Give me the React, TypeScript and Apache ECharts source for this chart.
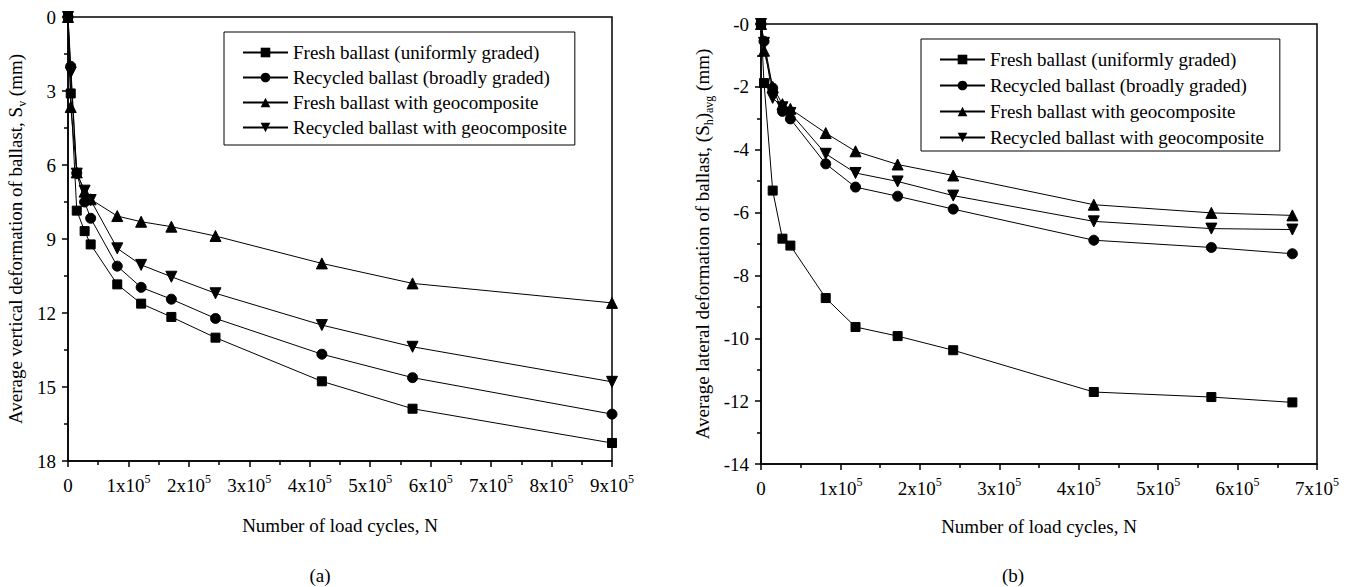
import React, { useEffect, useRef } from "react";
import * as echarts from "echarts";

const SERIES_NAMES = [
  "Fresh ballast (uniformly graded)",
  "Recycled ballast (broadly graded)",
  "Fresh ballast with geocomposite",
  "Recycled ballast with geocomposite",
];

// (a) vertical deformation
const N_A = [0, 4500, 14500, 27500, 37500, 81500, 121000, 171000, 244000, 420000, 570000, 900000];
const FRESH_A = [0, 3.1, 7.85, 8.68, 9.22, 10.84, 11.62, 12.16, 13.0, 14.77, 15.88, 17.27];
const RECYCLED_A = [0, 2.0, 6.33, 7.5, 8.16, 10.1, 10.96, 11.44, 12.22, 13.67, 14.62, 16.1];
const FRESH_GEO_A = [0, 3.65, 6.3, 7.08, 7.39, 8.07, 8.3, 8.5, 8.88, 9.99, 10.8, 11.59];
const RECYCLED_GEO_A = [0, 2.25, 6.35, 7.04, 7.42, 9.38, 10.05, 10.53, 11.2, 12.49, 13.37, 14.79];

// (b) lateral deformation
const N_B = [0, 3800, 14700, 27000, 37000, 81500, 119000, 172000, 242000, 419000, 567000, 669000];
const FRESH_B = [0, -1.88, -5.3, -6.83, -7.05, -8.72, -9.64, -9.93, -10.38, -11.71, -11.87, -12.04];
const RECYCLED_B = [0, -0.55, -2.04, -2.78, -3.02, -4.45, -5.19, -5.48, -5.89, -6.88, -7.11, -7.31];
const FRESH_GEO_B = [0, -0.85, -2.0, -2.55, -2.7, -3.47, -4.05, -4.47, -4.82, -5.75, -6.01, -6.09];
const RECYCLED_GEO_B = [0, -0.6, -2.35, -2.65, -2.83, -4.13, -4.74, -5.01, -5.46, -6.28, -6.51, -6.54];

const FONT = "Liberation Serif";
const FS = 19;
const BLACK = "#000";

const SYMBOLS = [
  { symbol: "rect", size: 9, rotate: 0 },
  { symbol: "circle", size: 10, rotate: 0 },
  { symbol: "triangle", size: 11, rotate: 0 },
  { symbol: "triangle", size: 11, rotate: 180 },
];

function pairs(xs: number[], ys: number[]) {
  return xs.map((x, i) => [x, ys[i]]);
}

const xLabelFormatter = (v: number) =>
  v === 0 ? "{b|0}" : `{b|${Math.round(v / 1e5)}x10}{s|5}`;

const xLabelRich = {
  b: { fontSize: FS, fontFamily: FONT, color: BLACK, lineHeight: 25 },
  s: { fontSize: 12, fontFamily: FONT, color: BLACK, lineHeight: 12, verticalAlign: "top" },
};

const nameRich = {
  n: { fontSize: FS, fontFamily: FONT, color: BLACK, lineHeight: 25 },
  sub: { fontSize: 12, fontFamily: FONT, color: BLACK, lineHeight: 12, verticalAlign: "bottom" },
};

function axisCommon() {
  return {
    axisLine: { show: true, onZero: false, lineStyle: { color: BLACK, width: 1.5 } },
    axisTick: { show: true, inside: false, length: 6, lineStyle: { color: BLACK, width: 1.5 } },
    minorTick: { show: true, splitNumber: 2, length: 4, lineStyle: { color: BLACK, width: 1.5 } },
    splitLine: { show: false },
    minorSplitLine: { show: false },
  };
}

function makeSeries(xs: number[], ysList: number[][], axisIndex: number) {
  return ysList.map((ys, i) => ({
    name: SERIES_NAMES[i],
    type: "line",
    xAxisIndex: axisIndex,
    yAxisIndex: axisIndex,
    data: pairs(xs, ys),
    symbol: SYMBOLS[i].symbol,
    symbolSize: SYMBOLS[i].size,
    symbolRotate: SYMBOLS[i].rotate,
    showAllSymbol: true,
    clip: false,
    lineStyle: { color: BLACK, width: 1 },
    itemStyle: { color: BLACK, borderColor: BLACK },
    emphasis: { disabled: true },
  }));
}

function legendCfg(left: number, top: number, itemGap: number, padding: number[]) {
  return {
    orient: "vertical",
    left,
    top,
    data: SERIES_NAMES,
    itemWidth: 45,
    itemHeight: 12,
    itemGap,
    padding,
    borderColor: BLACK,
    borderWidth: 1,
    borderRadius: 0,
    backgroundColor: "#fff",
    selectedMode: false,
    textStyle: { fontSize: FS, fontFamily: FONT, color: BLACK, lineHeight: 19 },
  };
}

export default function App() {
  const ref = useRef<HTMLDivElement>(null);

  useEffect(() => {
    if (!ref.current) return;
    const chart = echarts.init(ref.current, null, { renderer: "svg" });

    const option: any = {
      animation: false,
      backgroundColor: "#fff",
      textStyle: { fontFamily: FONT, color: BLACK },
      grid: [
        { left: 68, top: 17, width: 544, height: 444, show: true, borderColor: BLACK, borderWidth: 1.5, backgroundColor: "transparent" },
        { left: 761, top: 24, width: 556, height: 440, show: true, borderColor: BLACK, borderWidth: 1.5, backgroundColor: "transparent" },
      ],
      xAxis: [
        {
          gridIndex: 0,
          type: "value",
          min: 0,
          max: 900000,
          interval: 100000,
          name: "Number of load cycles, N",
          nameLocation: "middle",
          nameGap: 55,
          nameTextStyle: { fontSize: FS, fontFamily: FONT, color: BLACK },
          axisLabel: { formatter: xLabelFormatter, rich: xLabelRich, margin: 12, showMaxLabel: true },
          ...axisCommon(),
        },
        {
          gridIndex: 1,
          type: "value",
          min: 0,
          max: 700000,
          interval: 100000,
          name: "Number of load cycles, N",
          nameLocation: "middle",
          nameGap: 53,
          nameTextStyle: { fontSize: FS, fontFamily: FONT, color: BLACK },
          axisLabel: { formatter: xLabelFormatter, rich: xLabelRich, margin: 12, showMaxLabel: true },
          ...axisCommon(),
        },
      ],
      yAxis: [
        {
          gridIndex: 0,
          type: "value",
          inverse: true,
          min: 0,
          max: 18,
          interval: 3,
          name: "{n|Average vertical deformation of ballast, S}{sub|v}{n| (mm)}",
          nameLocation: "middle",
          nameGap: 40,
          nameTextStyle: { fontSize: FS, fontFamily: FONT, color: BLACK, rich: nameRich },
          axisLabel: { fontSize: FS, fontFamily: FONT, color: BLACK, margin: 12 },
          ...axisCommon(),
        },
        {
          gridIndex: 1,
          type: "value",
          min: -14,
          max: 0,
          interval: 2,
          name: "{n|Average lateral deformation of ballast, (S}{sub|h}{n|)}{sub|avg}{n| (mm)}",
          nameLocation: "middle",
          nameGap: 46,
          nameTextStyle: { fontSize: FS, fontFamily: FONT, color: BLACK, rich: nameRich },
          axisLabel: {
            fontSize: FS,
            fontFamily: FONT,
            color: BLACK,
            margin: 12,
            formatter: (v: number) => (v === 0 ? "-0" : String(v)),
          },
          ...axisCommon(),
        },
      ],
      legend: [
        legendCfg(224, 32, 6, [11, 8, 8, 18]),
        legendCfg(921, 39, 7, [11, 16, 4, 18]),
      ],
      graphic: [
        {
          type: "text",
          x: 320,
          y: 575,
          style: { text: "(a)", fontSize: FS, fontFamily: FONT, fill: BLACK, align: "center", verticalAlign: "middle" },
        },
        {
          type: "text",
          x: 1013,
          y: 575,
          style: { text: "(b)", fontSize: FS, fontFamily: FONT, fill: BLACK, align: "center", verticalAlign: "middle" },
        },
      ],
      series: [
        ...makeSeries(N_A, [FRESH_A, RECYCLED_A, FRESH_GEO_A, RECYCLED_GEO_A], 0),
        ...makeSeries(N_B, [FRESH_B, RECYCLED_B, FRESH_GEO_B, RECYCLED_GEO_B], 1),
      ],
    };

    chart.setOption(option);
    return () => chart.dispose();
  }, []);

  return (
    <div
      ref={ref}
      style={{ position: "fixed", left: 0, top: 0, width: 1351, height: 587, background: "#fff" }}
    />
  );
}
